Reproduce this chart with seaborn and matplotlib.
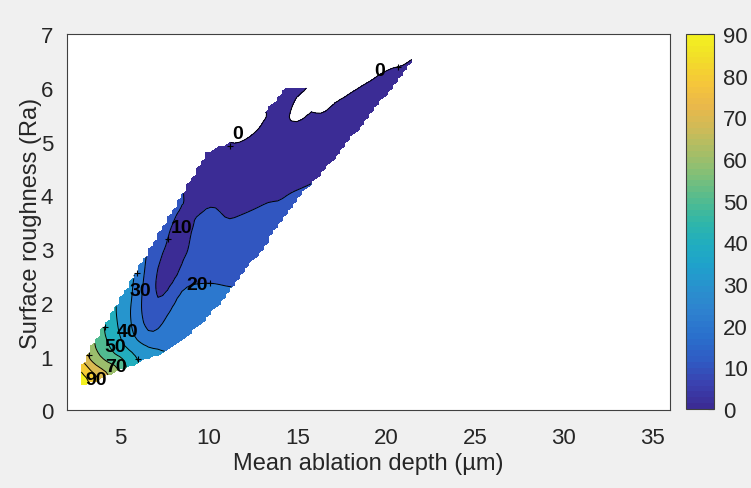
import numpy as np
import matplotlib
matplotlib.use("Agg")
import matplotlib.pyplot as plt
import matplotlib.tri as mtri
from matplotlib.path import Path
from matplotlib.colors import LinearSegmentedColormap, Normalize
from matplotlib.cm import ScalarMappable
import seaborn as sns

# ---- digitised contour traces (depth um, roughness Ra) for each response level ----
lev90_x = [2.85, 3.10, 3.30]
lev90_y = [0.78, 0.66, 0.56]
lev80_x = [2.95, 3.30, 3.70]
lev80_y = [0.88, 0.76, 0.64]
lev70_x = [3.10, 3.50, 4.00, 4.40]
lev70_y = [0.98, 0.86, 0.77, 0.74]
lev60_x = [3.50, 3.80, 4.30, 4.80]
lev60_y = [1.21, 1.00, 0.87, 0.82]
lev50_x = [4.05, 4.30, 4.70, 5.30]
lev50_y = [1.50, 1.22, 1.00, 0.92]
lev40_x = [4.75, 4.90, 5.20, 5.70, 6.20]
lev40_y = [1.88, 1.50, 1.22, 1.06, 1.02]
lev30_x = [5.97, 5.75, 5.60, 5.62, 5.85, 6.40, 7.10]
lev30_y = [2.58, 2.20, 1.85, 1.55, 1.32, 1.20, 1.16]
lev20_x = [6.60, 6.32, 6.20, 6.20, 6.33, 6.60, 6.97, 7.30, 7.62, 8.00, 8.28,
           8.56, 8.93, 9.50, 10.20, 11.30]
lev20_y = [2.95, 2.60, 2.20, 1.80, 1.55, 1.43, 1.44, 1.57, 1.78, 2.02, 2.22,
           2.32, 2.36, 2.37, 2.38, 2.30]
lev10_x = [8.80, 8.45, 8.19, 7.90, 7.71, 7.53, 7.15, 6.87, 6.78, 6.97, 7.25,
           7.81, 8.37, 8.75, 8.93, 9.12, 9.49, 9.87, 10.34, 10.62, 10.80,
           11.08, 11.74, 12.60, 13.43, 14.60, 15.60]
lev10_y = [4.18, 3.85, 3.63, 3.38, 3.19, 3.07, 2.76, 2.32, 1.98, 1.92, 2.01,
           2.20, 2.51, 2.88, 3.25, 3.50, 3.72, 3.80, 3.82, 3.78, 3.63,
           3.53, 3.63, 3.76, 3.90, 4.05, 4.20]
lev0_x = [11.20, 11.80, 12.30, 12.90, 13.15, 15.60, 14.93, 14.46, 14.33,
          14.46, 14.74, 15.30, 16.00, 17.00, 18.00, 19.40, 20.70, 21.70]
lev0_y = [4.96, 5.00, 5.10, 5.30, 5.50, 6.02, 5.83, 5.62, 5.40,
          5.30, 5.32, 5.42, 5.52, 5.71, 5.88, 6.18, 6.39, 6.56]

# ---- additional readings between the traces and just around the sampled area ----
extra_x = [7.30, 7.90, 8.40, 9.30, 10.50, 12.00, 13.50, 15.00, 16.50, 18.00,
           19.50, 20.80, 16.40, 17.50, 18.90, 20.40, 9.30, 9.80, 10.50,
           8.00, 7.00, 5.00, 4.40,
           14.60, 13.40, 12.30, 10.10, 8.80, 7.60, 4.80, 4.40, 3.70, 2.85,
           9.50, 11.00, 12.50, 14.00, 6.95, 6.90, 7.35, 5.90, 6.20, 8.30, 9.80,
           5.20, 5.30,
           16.50, 18.50, 20.50, 15.20, 14.20, 14.90, 11.80, 12.60,
           2.60, 3.30, 4.30, 5.20, 6.20, 7.20, 8.20, 9.20, 10.20, 11.20, 12.40,
           13.30, 14.20, 15.60, 17.50, 19.50, 22.20, 22.60,
           22.30, 21.20, 19.60, 18.10, 16.90, 15.80, 14.90, 13.80, 12.70, 11.60,
           10.40, 9.10, 7.80, 6.30, 5.30, 4.40, 3.40, 2.40]
extra_y = [2.50, 2.90, 3.50, 4.00, 4.30, 4.50, 4.80, 5.00, 5.20, 5.50,
           5.90, 6.20, 4.46, 4.90, 5.46, 6.08, 4.45, 4.72, 4.86,
           3.72, 3.16, 2.04, 1.68,
           3.80, 3.25, 2.80, 1.90, 1.50, 1.19, 0.80, 0.72, 0.62, 0.50,
           3.00, 3.00, 3.30, 3.70, 2.95, 1.68, 1.85, 1.90, 1.35, 1.85, 2.15,
           1.75, 1.30,
           5.90, 6.20, 6.47, 5.70, 5.75, 5.95, 5.25, 5.40,
           1.10, 1.50, 2.05, 2.55, 3.10, 3.65, 4.20, 4.75, 5.15, 5.40, 5.65,
           6.00, 6.40, 6.40, 6.55, 6.80, 7.00, 6.90,
           6.50, 5.95, 5.30, 4.70, 4.20, 3.80, 3.40, 2.95, 2.45, 2.00,
           1.60, 1.25, 0.95, 0.70, 0.55, 0.42, 0.30, 0.35]
extra_z = [7, 6, 6, 5, 4, 3, 2.5, 2, 2.5, 2,
           1.5, 1, 9, 8, 7, 4, 8, 5, 2.5,
           12, 17, 38, 45,
           12, 14, 16.5, 23, 26, 28.5, 62, 72, 82, 95,
           13, 14, 13, 11.5, 15, 15, 15, 25, 25, 24, 22,
           35, 35,
           -3, -2, -1, -2, 2, 1, -2, -1.5,
           85, 65, 45, 34, 22, 15, 10.5, 6, 1, -3, -3,
           1, 2, 1, -3, -2, -1, -1,
           2, 6, 9, 10.5, 11.5, 13, 14.5, 16, 18.5, 22,
           25, 28, 31, 40, 52, 70, 90, 98]

# outline of the sampled (depth, roughness) region
edge_x = [2.75, 3.50, 4.30, 6.00, 7.00, 7.60, 8.80, 10.10, 11.20, 12.30, 13.40,
          14.60, 15.40, 16.40, 17.50, 18.90, 20.40, 21.90, 15.60, 14.27, 13.89,
          13.43, 13.05, 12.20, 11.20, 10.50, 9.80, 9.00, 8.00, 7.00, 6.00, 5.00,
          4.00, 3.00, 2.65, 2.75]
edge_y = [0.42, 0.52, 0.64, 0.86, 1.00, 1.08, 1.36, 1.76, 2.18, 2.66, 3.14,
          3.72, 4.07, 4.38, 4.82, 5.38, 6.00, 6.62, 6.04, 6.04, 5.84,
          5.68, 5.56, 5.31, 5.02, 4.92, 4.80, 4.35, 3.80, 3.24, 2.68, 2.12,
          1.57, 1.01, 0.70, 0.42]

levels = [0, 10, 20, 30, 40, 50, 60, 70, 80, 90]

label_text = ["0", "0", "10", "20", "30", "40", "50", "70", "90"]
label_x = [11.62, 19.62, 8.45, 9.35, 6.15, 5.40, 4.72, 4.75, 3.62]
label_y = [5.15, 6.32, 3.40, 2.35, 2.24, 1.47, 1.19, 0.82, 0.57]
plus_x = [11.18, 20.67, 7.70, 10.06, 5.96, 6.01, 4.16, 3.22]
plus_y = [4.93, 6.40, 3.19, 2.37, 2.56, 0.95, 1.55, 1.04]

# parula-style colour map anchors
parula_anchors = ["#3b2c95", "#3a42b0", "#2f5cc4", "#2a6fcc", "#2e80cf",
                  "#2a8fce", "#1fa0cc", "#20adc0", "#30b6a8", "#55bc8e",
                  "#80bf78", "#a8be66", "#cdbb58", "#eab84a", "#f5c63a",
                  "#f2dc2a", "#f3f020"]
parula = LinearSegmentedColormap.from_list("parula", parula_anchors, N=64)

# ---- assemble samples ----
pts_x, pts_y, pts_z = [], [], []
for lv, xs, ys in [(90, lev90_x, lev90_y), (80, lev80_x, lev80_y),
                   (70, lev70_x, lev70_y), (60, lev60_x, lev60_y),
                   (50, lev50_x, lev50_y), (40, lev40_x, lev40_y),
                   (30, lev30_x, lev30_y), (20, lev20_x, lev20_y),
                   (10, lev10_x, lev10_y), (0, lev0_x, lev0_y)]:
    pts_x += xs
    pts_y += ys
    pts_z += [lv] * len(xs)
pts_x += extra_x
pts_y += extra_y
pts_z += extra_z
pts_x = np.array(pts_x, float)
pts_y = np.array(pts_y, float)
pts_z = np.array(pts_z, float)

tri = mtri.Triangulation(pts_x, pts_y)
interp = mtri.LinearTriInterpolator(tri, pts_z)

step_x, step_y = 0.27, 0.06
gx = np.arange(2.0, 22.8, step_x)
gy = np.arange(0.3, 6.95, step_y)
GX, GY = np.meshgrid(gx, gy)
Z = np.ma.filled(interp(GX, GY).astype(float), np.nan)


def blur(a, widths):
    """Gaussian blur (per-axis width in cells) that ignores NaN cells."""
    valid = np.isfinite(a).astype(float)
    num = np.where(np.isfinite(a), a, 0.0)
    for axis, w in enumerate(widths):
        r = int(np.ceil(3 * w))
        k = np.exp(-0.5 * (np.arange(-r, r + 1) / w) ** 2)
        num = np.apply_along_axis(lambda v: np.convolve(v, k, mode="same"), axis, num)
        valid = np.apply_along_axis(lambda v: np.convolve(v, k, mode="same"), axis, valid)
    with np.errstate(invalid="ignore", divide="ignore"):
        return np.where(valid > 1e-9, num / valid, np.nan)


# close any gaps in the surface, then soften it slightly
for _ in range(4):
    Z = np.where(np.isfinite(Z), Z, blur(Z, (3.0, 3.0)))
Z = blur(Z, (0.07 / step_y, 0.2 / step_x))
Z = np.clip(Z, -5, 99)

inside = Path(np.column_stack([edge_x, edge_y]), closed=True).contains_points(
    np.column_stack([GX.ravel(), GY.ravel()])).reshape(GX.shape)
Z = np.ma.masked_where(~inside | ~np.isfinite(Z), Z)

# ---- figure ----
sns.set_theme(style="white")
plt.rcParams["font.family"] = ["Liberation Sans", "DejaVu Sans"]
fig = plt.figure(figsize=(7.51, 4.89), dpi=100, facecolor="#f0f0f0")
ax = fig.add_axes([67 / 751, 1 - 411.4 / 489, (670 - 67) / 751, (411.4 - 35.3) / 489])
ax.set_facecolor("white")

norm = Normalize(0, 90)
fill_levels = levels + [200]
fill_colors = [parula(norm(v)) for v in levels]
ax.contourf(GX, GY, Z, levels=fill_levels, colors=fill_colors, corner_mask=True)
ax.contour(GX, GY, Z, levels=levels, colors="black", linewidths=0.7,
           corner_mask=True)

for t, lx, ly in zip(label_text, label_x, label_y):
    ax.text(lx, ly, t, ha="center", va="center", fontsize=14, fontweight="bold",
            color="black")
ax.plot(plus_x, plus_y, "+", color="black", ms=5, mew=0.8)

ax.set_xlim(2, 36)
ax.set_ylim(0, 7)
ax.set_xticks([5, 10, 15, 20, 25, 30, 35])
ax.set_yticks(range(0, 8))
ax.set_xlabel("Mean ablation depth (µm)", fontsize=17, color="#262626", labelpad=3)
ax.set_ylabel("Surface roughness (Ra)", fontsize=17, color="#262626", labelpad=-1)
ax.tick_params(direction="in", length=4, width=0.8, colors="#262626",
               labelsize=16, top=False, right=False)
ax.tick_params(axis="x", pad=12)
ax.tick_params(axis="y", pad=10)
for s in ax.spines.values():
    s.set_color("#404040")
    s.set_linewidth(0.8)

cax = fig.add_axes([686 / 751, 1 - 410 / 489, 28 / 751, (410 - 35) / 489])
cb = fig.colorbar(ScalarMappable(norm=norm, cmap=parula), cax=cax)
cb.set_ticks(levels)
cb.ax.tick_params(direction="in", length=4, width=0.8, colors="#262626",
                  labelsize=16, pad=6.5)
cb.outline.set_edgecolor("#404040")
cb.outline.set_linewidth(0.8)

fig.savefig("out.png", dpi=100, facecolor=fig.get_facecolor())
